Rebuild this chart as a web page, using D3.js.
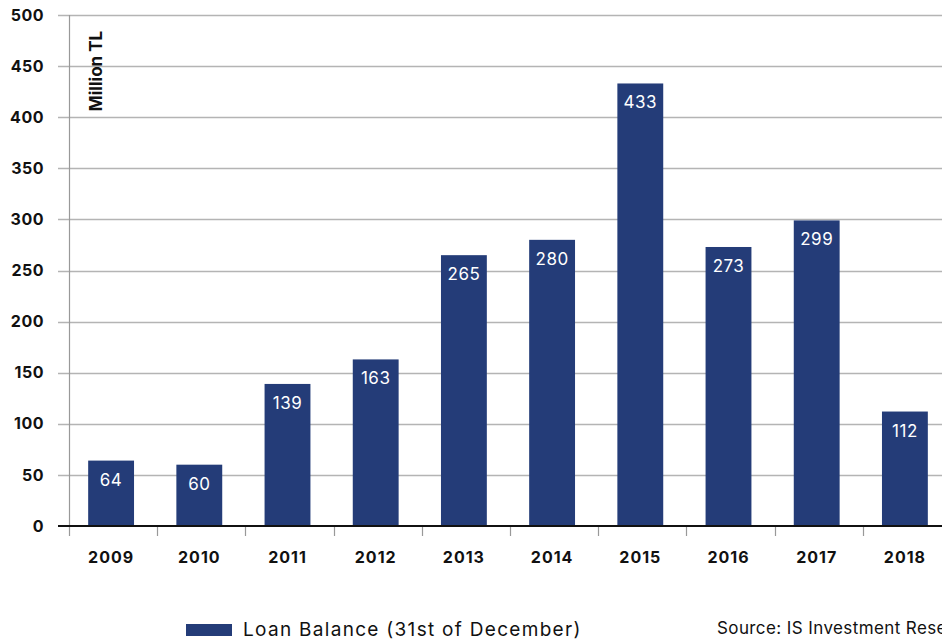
<!DOCTYPE html>
<html>
<head>
<meta charset="utf-8">
<script src="https://cdn.jsdelivr.net/npm/d3@7"></script>
<style>
  body { margin: 0; background: #fff; overflow: hidden; }
  svg { display: block; font-family: Inter, "Noto Sans", sans-serif; }
</style>
</head>
<body>
<div id="chart"></div>
<script>
// données
const years = ["2009", "2010", "2011", "2012", "2013", "2014", "2015", "2016", "2017", "2018"];
const loanBalance = [64, 60, 139, 163, 265, 280, 433, 273, 299, 112];
const yTicks = [0, 50, 100, 150, 200, 250, 300, 350, 400, 450, 500];

const width = 942;
const height = 640;
const barColor = "#243c78";

const svg = d3.select("#chart")
  .append("svg")
  .attr("width", width)
  .attr("height", height);

const x = d3.scaleBand()
  .domain(years)
  .range([69, 951])
  .paddingInner(0.48)
  .paddingOuter(0.24);

const y = d3.scaleLinear()
  .domain([0, 500])
  .range([526, 15]);

// grille horizontale
svg.append("g")
  .selectAll("line")
  .data(yTicks.filter(d => d > 0))
  .enter().append("line")
  .attr("x1", 58)
  .attr("x2", width)
  .attr("y1", d => Math.round(y(d)) + 0.5)
  .attr("y2", d => Math.round(y(d)) + 0.5)
  .attr("stroke", "#b4b4b4")
  .attr("stroke-width", 1.5);

// axe vertical
svg.append("line")
  .attr("x1", 69.5).attr("x2", 69.5)
  .attr("y1", 15).attr("y2", 526)
  .attr("stroke", "#999")
  .attr("stroke-width", 1.2);

// étiquettes de l'axe y
svg.append("g")
  .selectAll("text")
  .data(yTicks)
  .enter().append("text")
  .attr("x", 44)
  .attr("y", d => y(d))
  .attr("dy", "0.35em")
  .attr("text-anchor", "end")
  .attr("font-size", 16)
  .attr("font-weight", 700)
  .attr("letter-spacing", 0.5)
  .attr("fill", "#111")
  .text(d => d);

// barres
svg.append("g")
  .selectAll("rect")
  .data(loanBalance)
  .enter().append("rect")
  .attr("x", (d, i) => x(years[i]) - 2)
  .attr("y", d => y(d))
  .attr("width", x.bandwidth())
  .attr("height", d => y(0) - y(d))
  .attr("fill", barColor);

// valeurs sur les barres
svg.append("g")
  .selectAll("text")
  .data(loanBalance)
  .enter().append("text")
  .attr("x", (d, i) => x(years[i]) - 2 + x.bandwidth() / 2)
  .attr("y", d => y(d) + 25)
  .attr("text-anchor", "middle")
  .attr("font-size", 17)
  .attr("letter-spacing", 0.5)
  .attr("fill", "#fff")
  .text(d => d);

// ligne de base
svg.append("line")
  .attr("x1", 58).attr("x2", width)
  .attr("y1", 526).attr("y2", 526)
  .attr("stroke", "#111")
  .attr("stroke-width", 2);

// graduations x
const boundaries = years.map(d => x(d) - x.step() * x.paddingInner() / 2);
svg.append("g")
  .selectAll("line")
  .data(boundaries)
  .enter().append("line")
  .attr("x1", d => Math.round(d) + 0.5)
  .attr("x2", d => Math.round(d) + 0.5)
  .attr("y1", 527)
  .attr("y2", 536)
  .attr("stroke", "#999")
  .attr("stroke-width", 1.2);

// étiquettes x
svg.append("g")
  .selectAll("text")
  .data(years)
  .enter().append("text")
  .attr("x", d => x(d) - 2 + x.bandwidth() / 2)
  .attr("y", 563)
  .attr("text-anchor", "middle")
  .attr("font-size", 16)
  .attr("font-weight", 700)
  .attr("letter-spacing", 1)
  .attr("fill", "#111")
  .text(d => d);

// unité
svg.append("text")
  .attr("transform", "translate(102,71) rotate(-90)")
  .attr("text-anchor", "middle")
  .attr("font-size", 17)
  .attr("font-weight", 700)
  .attr("fill", "#111")
  .text("Million TL");

// légende
svg.append("rect")
  .attr("x", 186).attr("y", 624)
  .attr("width", 46).attr("height", 12)
  .attr("fill", barColor);

svg.append("text")
  .attr("x", 243).attr("y", 636)
  .attr("font-size", 19)
  .attr("letter-spacing", 1.3)
  .attr("fill", "#111")
  .text("Loan Balance (31st of December)");

svg.append("text")
  .attr("x", 717).attr("y", 634)
  .attr("font-size", 17)
  .attr("letter-spacing", 0.4)
  .attr("fill", "#111")
  .text("Source: IS Investment Research");
</script>
</body>
</html>
